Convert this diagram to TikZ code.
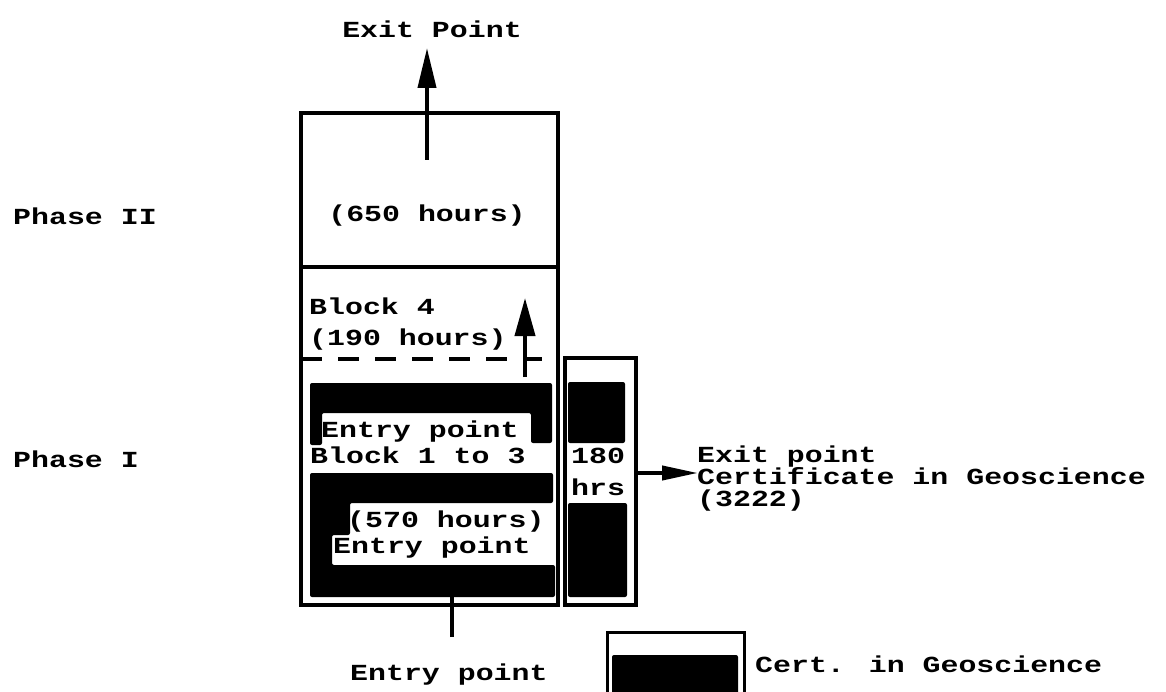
\documentclass[tikz,border=0pt]{standalone}
\usepackage{fontspec}
\newfontfamily\cour[FakeStretch=1.3]{Liberation Mono}
\usetikzlibrary{arrows.meta}
\tikzset{
  txt/.style={font=\cour\bfseries\fontsize{23}{22}\selectfont, inner sep=0pt, anchor=base west},
  box/.style={draw, line width=4pt, inner sep=0pt, outer sep=0pt},
  bar/.style={fill=black, rounded corners=2pt},
  arr/.style={line width=4pt, -{Triangle[length=40pt,width=18pt]}},
  arrs/.style={line width=4pt, -{Triangle[length=36pt,width=14pt]}},
  plain/.style={line width=4pt}
}
\begin{document}
\begin{tikzpicture}[x=1pt,y=-1pt]
\useasboundingbox (0,0) rectangle (1166,692);
\clip (0,0) rectangle (1166,692);
% boxes
\node[box, minimum width=257pt, minimum height=154pt] (p2) at (429.5,190) {};
\node[box, minimum width=257pt, minimum height=338pt] (p1) at (429.5,436) {};
\node[box, minimum width=71pt, minimum height=247.5pt] (sb) at (600.5,481.25) {};
% black bars, main box
\fill[bar] (310,383) -- (552,383) -- (552,443) -- (531,443) -- (531,413) -- (322,413) -- (322,445) -- (310,445) -- cycle;
\fill[bar] (310,473) -- (553,473) -- (553,503) -- (350,503) -- (350,535) -- (332,535) -- (332,565) -- (555,565) -- (555,597) -- (310,597) -- cycle;
% black bars, small box
\fill[bar] (568,382) rectangle (625,443);
\fill[bar] (568,503) rectangle (627,597);
% dashed line
\draw[line width=4.5pt, dash pattern=on 21pt off 16pt, dash phase=2pt] (303,359) -- (542,359);
% texts
\node[txt, anchor=base] (exit) at (432,38) {Exit Point};
\node[txt, anchor=base] (h650) at (427,222) {(650 hours)};
\node[txt] (ph2) at (13,225) {Phase II};
\node[txt] (ph1) at (13,467) {Phase I};
\node[txt] (b4) at (309,315) {Block 4};
\node[txt] (h190) at (309,345) {(190 hours)};
\node[txt] (ep1) at (321,437) {Entry point};
\node[txt] (b13) at (310,463) {Block 1 to 3};
\node[txt] (h570) at (347,527) {(570 hours)};
\node[txt] (ep2) at (333,553) {Entry point};
\node[txt] (n180) at (571,463) {180};
\node[txt] (hrs) at (571,495) {hrs};
\node[txt] (ex1) at (697,462) {Exit point};
\node[txt] (ex2) at (697,484) {Certificate in Geoscience};
\node[txt] (ex3) at (697,506) {(3222)};
\node[txt] (ep3) at (350,680) {Entry point};
\node[txt] (cert) at (755,672) {Cert. in Geoscience};
% connectors
\coordinate (exitfoot) at (427,160);
\coordinate (exittip) at (427,48);
\draw[arr] (exitfoot) -- (exittip);
\coordinate (b4foot) at (525,377);
\coordinate (b4tip) at (525,298);
\draw[line width=4pt, -{Triangle[length=38pt,width=20pt]}] (b4foot) -- (b4tip);
\coordinate (rstart) at (636,473);
\coordinate (rtip) at (698,473);
\draw[arrs] (rstart) -- (rtip);
\coordinate (entryfoot) at (452,637);
\coordinate (entrytop) at (452,597);
\draw[plain] (entryfoot) -- (entrytop);
% legend
\node[draw, line width=3pt, inner sep=0pt, minimum width=137pt, minimum height=70pt] (leg) at (675.5,667) {};
\fill[bar] (612,655) rectangle (738,705);
\end{tikzpicture}
\end{document}
